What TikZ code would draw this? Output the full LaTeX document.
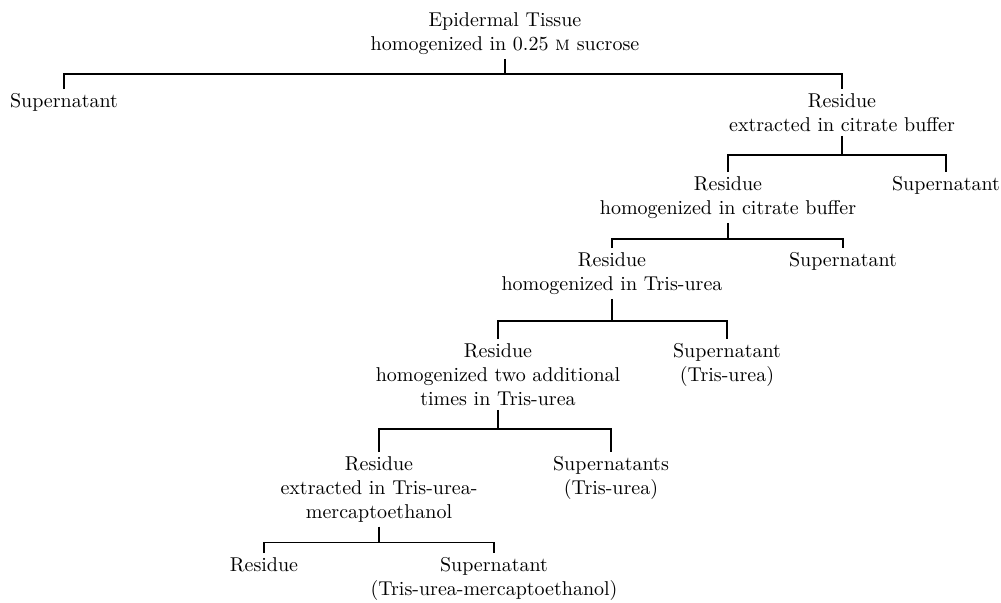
\documentclass[tikz,border=0pt]{standalone}
\usepackage{tikz}

\begin{document}
\begin{tikzpicture}[x=0.5pt,y=-0.5pt,
  txt/.style={align=center,inner sep=2pt,anchor=north},
  bar/.style={line width=0.9pt}]
\useasboundingbox (0,0) rectangle (1001,602);
\node[txt] (tissue) at (505,8) {Epidermal Tissue\\homogenized in 0.25 \textsc{m} sucrose};
\node[txt] (sup1) at (64,89) {Supernatant};
\node[txt] (res1) at (842,89) {Residue\\extracted in citrate buffer};
\node[txt] (res2) at (728,172) {Residue\\homogenized in citrate buffer};
\node[txt] (sup2) at (946,172) {Supernatant};
\node[txt] (res3) at (612,248) {Residue\\homogenized in Tris-urea};
\node[txt] (sup3) at (843,248) {Supernatant};
\node[txt] (res4) at (498,339) {Residue\\homogenized two additional\\times in Tris-urea};
\node[txt] (sup4) at (727,339) {Supernatant\\(Tris-urea)};
\node[txt] (res5) at (379,452) {Residue\\extracted in Tris-urea-\\mercaptoethanol};
\node[txt] (sup5) at (611,452) {Supernatants\\(Tris-urea)};
\node[txt] (res6) at (264,553) {Residue};
\node[txt] (sup6) at (494,553) {Supernatant\\(Tris-urea-mercaptoethanol)};
% forks: parent / left / right / tick length
\foreach \p/\l/\r/\d in {tissue/sup1/res1/15, res1/res2/sup2/19, res2/res3/sup3/16,
    res3/res4/sup4/22, res4/res5/sup5/19, res5/res6/sup6/16}
  \draw[bar] (\p.south) -- ++(0,\d) coordinate (j) (\l.north) |- (j) -| (\r.north);
\end{tikzpicture}
\end{document}
